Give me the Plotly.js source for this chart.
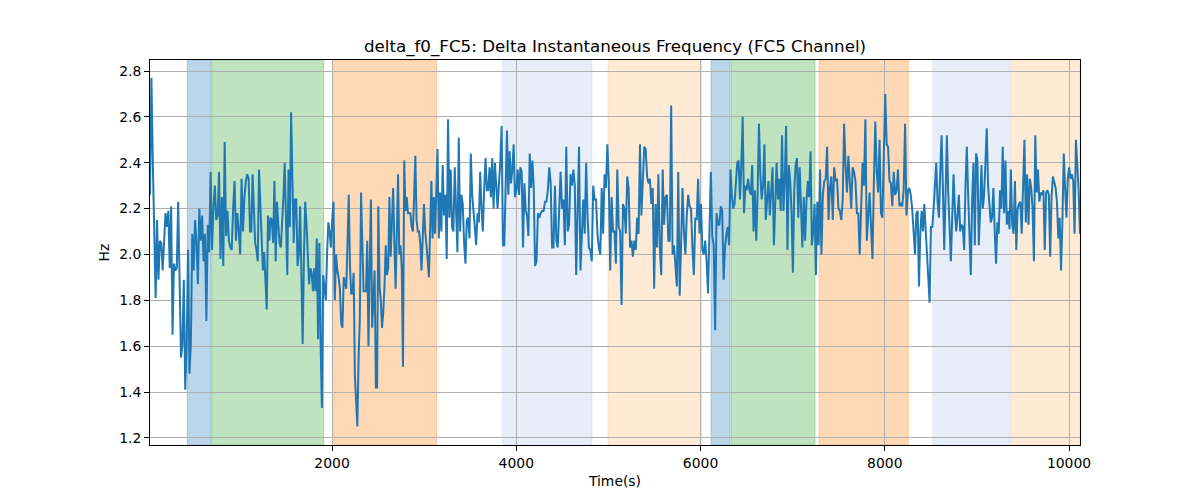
<!DOCTYPE html>
<html>
<head>
<meta charset="utf-8">
<script src="https://cdn.plot.ly/plotly-3.0.1.min.js"></script>
<style>
  html, body { margin: 0; padding: 0; background: #fff; }
  #chart { width: 1200px; height: 500px; }
</style>
</head>
<body>
<div id="chart"></div>
<script>
'use strict';

// delta_f0 values (Hz) in ten consecutive pieces
const seg1 = [2.26,2.77,2.40,2.15,1.81,2.15,1.89,2.06,2.05,1.93,2.06,2.18,2.12,2.19,1.94,2.21,1.65,1.96,1.93,1.94,2.23,1.95,1.55,1.61,1.89,1.41,1.60,2.02,1.48,1.61,2.09,1.93,2.15,2.05,1.87,2.20,2.06,2.17,1.97,2.09,1.71,2.13,2.01,2.36,2.02,2.20,2.30,2.15,2.17,2.36,1.98,2.25,1.95,2.49,2.08,2.19,2.06,2.03,2.02,2.20,2.32,2.06,2.18,2.10,2.00,2.33,2.10,2.25,2.32,2.35,2.33,2.10];
const seg2 = [2.10,2.35,2.20,2.05,2.02,1.97,2.37,2.20,2.05,1.93,2.01,1.90,1.76,2.17,2.06,2.16,2.15,2.05,2.32,1.97,2.23,2.13,2.05,2.03,2.12,2.25,2.40,2.10,1.91,2.37,2.12,2.62,2.30,2.05,2.24,2.24,1.95,2.00,2.21,1.90,1.61,2.00,2.23,2.13,1.97,1.87,1.94,1.92,1.84,1.94,1.84,2.07,1.63,2.05,1.60,1.33,1.91,1.85,1.80,2.00,2.14,2.10,2.03,2.15,2.23,1.80,2.00,1.93,1.90,1.85,1.70,1.68,1.90,1.88];
const seg3 = [1.85,2.05,2.26,1.95,1.83,1.83,1.92,1.47,1.38,1.25,1.55,1.72,2.27,2.05,1.84,1.84,1.84,2.06,1.60,1.95,2.24,1.68,1.80,1.93,1.42,1.42,2.21,1.86,1.80,1.68,1.75,1.86,2.04,1.91,1.94,2.25,1.99,2.15,2.29,2.05,1.85,2.10,2.35,2.00,2.04,1.94,1.51,2.41,2.19,2.25,2.18,2.18,2.18,2.12,2.10,2.25,2.43,2.15,2.10,2.10,2.05,1.93,2.10,2.22,2.10,2.05,1.98,1.90,2.10,2.32,2.07,2.25,2.09,2.30,2.46,2.07,2.27];
const seg4 = [2.10,2.39,2.17,2.26,1.98,2.59,2.16,2.37,2.12,2.10,2.38,2.15,2.01,2.51,2.10,2.26,2.22,2.05,1.96,2.15,2.16,2.07,2.44,2.26,2.20,2.12,2.04,2.18,2.14,2.36,2.20,2.10,2.29,2.42,2.28,2.28,2.38,2.25,2.42,2.20,2.40,2.30,2.20,2.31,2.40,2.56,2.04,2.04,2.30,2.54,2.26,2.45,2.31,2.37,2.48,2.25,2.28,2.37,2.26,2.38,2.36,2.03,2.31,2.19,2.17,2.08,2.44,2.29,2.41,2.29,1.95];
const seg5 = [1.97,2.18,2.16,2.18,2.19,2.19,2.23,2.23,2.28,2.38,2.31,2.03,2.03,2.30,2.06,2.03,2.20,2.36,2.20,2.24,2.04,2.47,2.10,2.13,2.35,2.30,2.37,2.30,1.91,2.20,2.47,1.93,2.07,2.24,2.09,2.40,2.17,2.03,2.02,1.97,2.30,2.24,2.24,2.09,2.03,2.00,2.29,2.09,2.35,2.29,2.48,2.32,1.93,2.25,2.10,2.10,1.96,2.37,2.12,2.10,1.78,2.22,2.20,2.09,2.34,2.29,2.03];
const seg6 = [2.06,1.99,2.06,2.02,2.16,2.09,2.48,2.17,2.35,2.47,2.46,2.34,2.31,2.33,2.22,2.29,1.85,2.22,2.03,2.35,2.03,1.91,2.37,2.13,2.25,2.26,2.06,2.06,2.65,2.00,2.04,1.94,1.86,2.36,1.82,2.05,2.29,2.10,2.00,2.17,2.26,2.21,2.20,2.03,1.91,2.16,2.15,2.33,2.09,2.22,2.02,2.00,2.06,1.97,1.83,2.10,2.36,2.08,2.04,1.67,2.18,2.13,2.13,2.21,2.19,1.89,2.03];
const seg7 = [2.09,2.12,2.04,2.37,2.26,2.20,2.22,2.30,2.40,2.41,2.24,2.39,2.60,2.18,2.30,2.28,2.33,2.28,2.26,2.39,2.10,2.28,2.06,2.26,2.57,2.35,2.24,2.30,2.48,2.15,2.23,2.32,2.17,2.27,2.38,2.04,2.26,2.40,2.24,2.33,2.19,2.52,2.19,2.32,2.56,2.02,2.39,2.32,2.19,1.92,2.28,2.39,2.42,2.16,2.38,2.22,2.03,2.25,2.06,2.23,2.32,2.25,2.45,2.04,2.10,2.22,1.91,2.23,2.04,2.37];
const seg8 = [2.00,2.26,2.32,2.33,2.47,2.15,2.29,2.34,2.15,2.38,2.32,2.33,2.20,2.19,2.15,2.24,2.57,2.39,2.27,2.43,2.31,2.20,2.38,2.36,2.32,2.18,2.18,2.00,2.20,2.40,2.30,2.59,2.06,2.19,2.27,2.12,1.98,2.32,2.58,2.36,2.27,2.50,2.18,2.16,2.39,2.70,2.48,2.47,2.32,2.31,2.21,2.36,2.26,2.28,2.37,2.21,2.22,2.21,2.28,2.57,2.17,2.28,2.29,2.26,2.20,2.11,2.00];
const seg9 = [2.18,2.19,1.86,2.10,2.19,2.10,2.22,2.12,1.99,1.92,1.79,2.12,2.12,2.20,2.28,2.40,2.23,2.16,2.36,2.52,2.29,2.02,2.26,2.52,2.27,2.14,1.97,2.16,2.35,2.20,2.10,2.17,2.26,2.10,2.13,2.12,2.02,2.30,2.47,2.26,2.06,1.91,2.24,2.40,2.04,2.44,2.41,2.04,2.19,2.39,2.20,2.26,2.40,2.55,2.30,2.19,2.14,2.16,2.29,2.10,1.96,2.14,2.09,2.28];
const seg10 = [2.20,2.47,2.18,2.41,2.13,2.19,2.11,2.37,2.13,2.09,2.32,2.02,2.20,2.22,2.23,2.09,2.27,2.50,2.14,2.35,2.13,2.33,2.29,2.20,1.97,2.52,2.27,2.37,2.23,2.27,2.26,2.28,2.02,2.27,2.28,2.26,1.99,2.25,2.34,2.32,2.29,2.23,2.07,2.16,1.93,2.14,2.44,2.29,2.16,2.33,2.38,2.33,2.35,2.32,2.09,2.50,2.41,2.28,2.09];

// time (s) at the boundaries between the pieces above
const segTimes = [24, 1110, 2141, 3172, 4204, 5235, 6266, 7297, 8328, 9251, 10119];

// shaded intervals (s) and their kind
const spanStart = [429, 694, 2018, 3849, 4996, 6114, 6331, 7286, 8521, 9371];
const spanEnd   = [684, 1910, 3136, 4822, 6013, 6320, 7243, 8256, 9360, 10119];
const spanKind  = ['blue', 'green', 'orange', 'lightblue', 'lightorange',
                   'blue', 'green', 'orange', 'lightblue', 'lightorange'];

const yTicks = [1.2, 1.4, 1.6, 1.8, 2.0, 2.2, 2.4, 2.6, 2.8];
const xTicks = [2000, 4000, 6000, 8000, 10000];

const spanColors = {
    blue:        'rgba(31,119,180,0.3)',
    green:       'rgba(44,160,44,0.3)',
    orange:      'rgba(255,127,14,0.3)',
    lightblue:   'rgba(174,199,232,0.3)',
    lightorange: 'rgba(255,187,120,0.3)'
};

function buildSeries() {
    let segs = [seg1, seg2, seg3, seg4, seg5, seg6, seg7, seg8, seg9, seg10];
    let t = [], v = [];
    segs.forEach((seg, k) => {
        let a = segTimes[k], b = segTimes[k + 1];
        let n = seg.length;
        for (let i = 0; i < n; i++) {
            // first piece starts exactly on the left edge
            let f = (k === 0) ? i / (n - 1) : (i + 1) / n;
            t.push(a + f * (b - a));
            v.push(seg[i]);
        }
    });
    return {t: t, v: v};
}

function buildShapes() {
    return spanStart.map((x0, i) => ({
        type: 'rect',
        xref: 'x', yref: 'paper',
        x0: x0, x1: spanEnd[i], y0: 0, y1: 1,
        fillcolor: spanColors[spanKind[i]],
        line: {width: 1, color: spanColors[spanKind[i]]},
        layer: 'below'
    }));
}

let s = buildSeries();

let trace = {
    x: s.t,
    y: s.v,
    type: 'scatter',
    mode: 'lines',
    line: {color: '#1f77b4', width: 2},
    hoverinfo: 'x+y'
};

let font = {family: 'DejaVu Sans, sans-serif', size: 13.9, color: '#000'};

let axisCommon = {
    showline: true,
    mirror: true,
    linecolor: '#000',
    linewidth: 1,
    ticks: 'outside',
    ticklen: 5,
    tickwidth: 1,
    tickcolor: '#000',
    showgrid: true,
    gridcolor: '#b0b0b0',
    gridwidth: 1,
    zeroline: false,
    tickfont: font,
    automargin: false
};

let layout = {
    width: 1200,
    height: 500,
    margin: {l: 150, r: 120, t: 60, b: 55},
    paper_bgcolor: '#fff',
    plot_bgcolor: '#fff',
    font: font,
    showlegend: false,
    title: {
        text: 'delta_f0_FC5: Delta Instantaneous Frequency (FC5 Channel)',
        font: {family: 'DejaVu Sans, sans-serif', size: 16.7, color: '#000'},
        xref: 'paper', x: 0.5, xanchor: 'center',
        yref: 'container', y: 0.908, yanchor: 'middle'
    },
    xaxis: Object.assign({}, axisCommon, {
        range: [24, 10119],
        tickvals: xTicks,
        ticktext: xTicks.map(String),
        title: {text: 'Time(s)', font: font, standoff: 6}
    }),
    yaxis: Object.assign({}, axisCommon, {
        range: [1.169, 2.848],
        tickvals: yTicks,
        ticktext: yTicks.map(v => v.toFixed(1)),
        title: {text: 'Hz', font: font, standoff: 6}
    }),
    shapes: buildShapes()
};

Plotly.newPlot('chart', [trace], layout, {displayModeBar: false, staticPlot: true});
</script>
</body>
</html>
